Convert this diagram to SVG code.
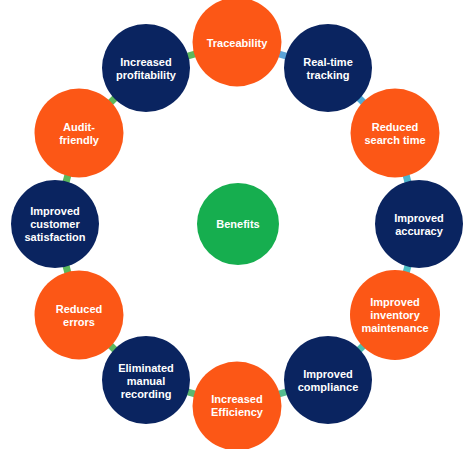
<svg xmlns="http://www.w3.org/2000/svg" width="474" height="449" viewBox="0 0 474 449">
<style>
.o{fill:#FC5716}
.n{fill:#0A2460}
.g{fill:#16AE4F}
.t{font-family:"Liberation Sans",Arial,sans-serif;font-weight:bold;font-size:11px;fill:#fff;text-anchor:middle}
.c{stroke-width:7;fill:none}
</style>
<rect width="474" height="449" fill="#fff"/>
<g id="connectors">
<line class="c" x1="237" y1="42" x2="328" y2="68" stroke="#5BA3D8"/>
<line class="c" x1="328" y1="68" x2="395" y2="133" stroke="#52ABD6"/>
<line class="c" x1="395" y1="133" x2="419" y2="224" stroke="#4DB5CD"/>
<line class="c" x1="419" y1="224" x2="395" y2="315" stroke="#4CC0C4"/>
<line class="c" x1="395" y1="315" x2="328" y2="380" stroke="#50C0B0"/>
<line class="c" x1="328" y1="380" x2="237" y2="406" stroke="#55BC90"/>
<line class="c" x1="237" y1="406" x2="146" y2="380" stroke="#5CB870"/>
<line class="c" x1="146" y1="380" x2="79" y2="315" stroke="#5CB860"/>
<line class="c" x1="79" y1="315" x2="55" y2="224" stroke="#5CB85C"/>
<line class="c" x1="55" y1="224" x2="79" y2="133" stroke="#5CB85C"/>
<line class="c" x1="79" y1="133" x2="146" y2="68" stroke="#5CB85C"/>
<line class="c" x1="146" y1="68" x2="237" y2="42" stroke="#5CB85C"/>
</g>
<g id="benefits"><circle class="g" cx="238" cy="224" r="41"/><text class="t" x="238" y="228">Benefits</text></g>
<g id="traceability"><circle class="o" cx="237" cy="42" r="44.5"/><text class="t" x="237" y="47">Traceability</text></g>
<g id="realtime"><circle class="n" cx="328" cy="68" r="44"/><text class="t" x="328" y="66">Real-time</text><text class="t" x="328" y="79">tracking</text></g>
<g id="searchtime"><circle class="o" cx="395" cy="133" r="44.5"/><text class="t" x="395" y="131">Reduced</text><text class="t" x="395" y="144">search time</text></g>
<g id="accuracy"><circle class="n" cx="419" cy="224" r="44"/><text class="t" x="419" y="222">Improved</text><text class="t" x="419" y="235">accuracy</text></g>
<g id="inventory"><circle class="o" cx="395" cy="315" r="45"/><text class="t" x="395" y="306">Improved</text><text class="t" x="395" y="319">inventory</text><text class="t" x="395" y="332">maintenance</text></g>
<g id="compliance"><circle class="n" cx="328" cy="380" r="44"/><text class="t" x="328" y="378">Improved</text><text class="t" x="328" y="391">compliance</text></g>
<g id="efficiency"><circle class="o" cx="237" cy="406" r="44.5"/><text class="t" x="237" y="403">Increased</text><text class="t" x="237" y="416">Efficiency</text></g>
<g id="eliminated"><circle class="n" cx="146" cy="380" r="44"/><text class="t" x="146" y="372">Eliminated</text><text class="t" x="146" y="385">manual</text><text class="t" x="146" y="398">recording</text></g>
<g id="errors"><circle class="o" cx="79" cy="315" r="44.5"/><text class="t" x="79" y="313">Reduced</text><text class="t" x="79" y="326">errors</text></g>
<g id="satisfaction"><circle class="n" cx="55" cy="224" r="44"/><text class="t" x="55" y="215">Improved</text><text class="t" x="55" y="228">customer</text><text class="t" x="55" y="241">satisfaction</text></g>
<g id="audit"><circle class="o" cx="79" cy="133" r="44.5"/><text class="t" x="79" y="131">Audit-</text><text class="t" x="79" y="144">friendly</text></g>
<g id="profitability"><circle class="n" cx="146" cy="68" r="44"/><text class="t" x="146" y="66">Increased</text><text class="t" x="146" y="79">profitability</text></g>
</svg>
